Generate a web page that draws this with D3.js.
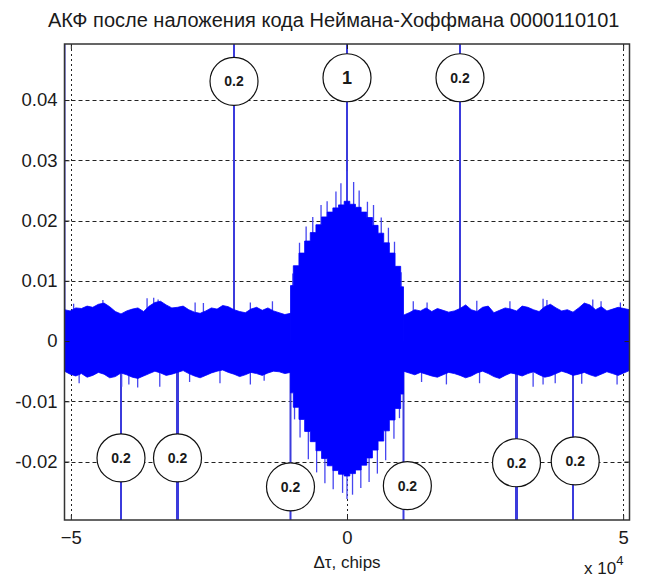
<!DOCTYPE html>
<html lang="ru">
<head>
  <meta charset="UTF-8">
  <title>АКФ после наложения кода Неймана-Хоффмана</title>
  <script src="https://d3js.org/d3.v7.min.js"></script>
  <style>
    body { margin: 0; background: #fff; }
    svg text { font-family: Arial, "Liberation Sans", sans-serif; fill: #1a1a1a; }
  </style>
</head>
<body>
<svg id="chart" width="653" height="578"></svg>
<script>
  // ---- data (x in units of 10^4 chips, one NH bit = 1023*10 chips) ----
  const bitWidth = 1.023;
  const xLimitBits = 5;

  // envelope of the ACF, sampled every 0.1 bit
  const noiseLeftTop = [
    .0052, .0050, .0055, .0054, .0058, .0056, .0061, .0063, .0057, .0049,
    .0045, .0050, .0053, .0055, .0049, .0058, .0064, .0066, .0060, .0055,
    .0056, .0058, .0052, .0048, .0046, .0050, .0055, .0053, .0059, .0057,
    .0052, .0049, .0047, .0053, .0056, .0051, .0055, .0050, .0047, .0044,
    .0046
  ];
  const noiseLeftBottom = [
    -.0050, -.0055, -.0058, -.0054, -.0060, -.0057, -.0052, -.0055, -.0061, -.0059,
    -.0053, -.0056, -.0060, -.0062, -.0058, -.0054, -.0050, -.0053, -.0057, -.0055,
    -.0052, -.0049, -.0054, -.0058, -.0061, -.0057, -.0053, -.0050, -.0048, -.0052,
    -.0055, -.0059, -.0056, -.0052, -.0054, -.0057, -.0053, -.0050, -.0051, -.0054,
    -.0052
  ];
  const bumpTop = [
    .0092, .0125, .0146, .0166, .0180, .0193, .0206, .0214, .0221, .0226,
    .0232,
    .0227, .0222, .0214, .0205, .0192, .0179, .0163, .0146, .0124, .0090
  ];
  const bumpBottom = [
    -.0086, -.0110, -.0130, -.0150, -.0167, -.0182, -.0195, -.0207, -.0215, -.0221,
    -.0224,
    -.0220, -.0214, -.0206, -.0194, -.0181, -.0166, -.0149, -.0131, -.0112, -.0088
  ];
  const noiseRightTop = [
    .0043, .0047, .0052, .0050, .0055, .0049, .0054, .0051, .0048, .0050,
    .0054, .0060, .0052, .0049, .0056, .0058, .0047, .0051, .0055, .0053,
    .0050, .0058, .0056, .0052, .0049, .0057, .0061, .0055, .0050, .0052,
    .0048, .0055, .0063, .0060, .0052, .0057, .0050, .0053, .0056, .0054,
    .0052
  ];
  const noiseRightBottom = [
    -.0050, -.0053, -.0056, -.0052, -.0055, -.0058, -.0060, -.0056, -.0052, -.0054,
    -.0057, -.0061, -.0058, -.0053, -.0050, -.0054, -.0059, -.0062, -.0057, -.0053,
    -.0055, -.0058, -.0054, -.0051, -.0056, -.0060, -.0058, -.0054, -.0050, -.0053,
    -.0057, -.0055, -.0052, -.0056, -.0059, -.0055, -.0051, -.0054, -.0057, -.0053,
    -.0049
  ];

  // single samples sticking out of the envelope: [x, value]
  const spikes = [
    [-4.95, .0062], [-4.42, .0068], [-3.62, .0071], [-3.50, .0072], [-3.42, .0069],
    [-2.75, .0064], [-2.60, .0063], [-1.75, .0064], [-1.35, .0066],
    [1.20, .0066], [1.45, .0064], [2.35, .0067], [2.95, .0066], [3.55, .0070],
    [3.62, .0068], [4.45, .0069], [4.60, .0066], [4.95, .0064],
    [-4.85, -.0070], [-4.08, -.0076], [-3.95, -.0072], [-3.79, -.0077], [-3.39, -.0076],
    [-2.85, -.0068], [-2.30, -.0070], [-1.75, -.0072], [-1.50, -.0066],
    [1.35, -.0068], [1.80, -.0072], [2.40, -.0070], [3.37, -.0076], [3.55, -.0072],
    [3.77, -.0070], [4.25, -.0071], [4.89, -.0072],
    [0, .0282], [-0.11, .0262], [0.12, .0264], [-0.20, .0248], [0.22, .0250],
    [-0.36, .0232], [0.37, .0231], [-0.47, .0226], [0.48, .0226],
    [-0.62, .0206], [0.62, .0205], [-0.74, .0190], [0.75, .0188],
    [-0.86, .0163], [0.86, .0165], [-0.98, .0112], [0.98, .0114],
    [0, -.0262], [-0.08, -.0252], [0.10, -.0255], [-0.25, -.0246], [0.25, -.0244],
    [-0.40, -.0236], [0.40, -.0234], [-0.55, -.0218], [0.55, -.0220], [-0.70, -.0196],
    [0.70, -.0198], [-0.85, -.0160], [0.85, -.0162], [-0.95, -.0130], [0.95, -.0128]
  ];

  // NH code peaks (in bits): lines going up and down from zero
  const upBits = [-5, -2, 0, 2];
  const downBits = [-4, -3, -1, 1, 3, 4];
  const labelBits = [-2, 0, 2, -4, -3, -1, 1, 3, 4];
  const labelTexts = ["0.2", "1", "0.2", "0.2", "0.2", "0.2", "0.2", "0.2", "0.2"];

  const xTicks = [-5, 0, 5];
  const yTicks = [-0.02, -0.01, 0, 0.01, 0.02, 0.03, 0.04];

  // ---- layout ----
  const box = { left: 64.5, right: 629.5, top: 44, bottom: 520 };
  const svg = d3.select("#chart");

  const x = d3.scaleLinear()
    .domain([-xLimitBits * bitWidth, xLimitBits * bitWidth])
    .range([box.left, box.right]);
  const y = d3.scaleLinear()
    .domain([-0.0297, 0.0493])
    .range([box.bottom, box.top]);

  svg.append("defs").append("clipPath").attr("id", "plot")
    .append("rect")
    .attr("x", box.left).attr("y", box.top)
    .attr("width", box.right - box.left).attr("height", box.bottom - box.top);

  // grid
  const grid = svg.append("g").attr("stroke", "#222").attr("stroke-width", 1);
  grid.selectAll(".hg").data(yTicks).enter().append("line")
    .attr("x1", box.left).attr("x2", box.right)
    .attr("y1", d => Math.round(y(d)) + 0.5).attr("y2", d => Math.round(y(d)) + 0.5)
    .attr("stroke-dasharray", "4,3");
  grid.selectAll(".vg").data(xTicks).enter().append("line")
    .attr("y1", box.top).attr("y2", box.bottom)
    .attr("x1", d => Math.round(x(d)) + 0.5).attr("x2", d => Math.round(x(d)) + 0.5)
    .attr("stroke-dasharray", "2,3");

  const plot = svg.append("g").attr("clip-path", "url(#plot)");

  // NH peak lines
  plot.selectAll(".up").data(upBits).enter().append("line")
    .attr("x1", d => x(d * bitWidth)).attr("x2", d => x(d * bitWidth))
    .attr("y1", y(0)).attr("y2", box.top)
    .attr("stroke", "#3b3bdc").attr("stroke-width", 2);
  plot.selectAll(".down").data(downBits).enter().append("line")
    .attr("x1", d => x(d * bitWidth)).attr("x2", d => x(d * bitWidth))
    .attr("y1", y(0)).attr("y2", box.bottom)
    .attr("stroke", "#3b3bdc").attr("stroke-width", d => Math.abs(d) === 3 ? 3 : 2);

  // spikes
  plot.selectAll(".spike").data(spikes).enter().append("line")
    .attr("x1", d => x(d[0])).attr("x2", d => x(d[0]))
    .attr("y1", y(0)).attr("y2", d => y(d[1]))
    .attr("stroke", "#4646f0").attr("stroke-width", 1.3);

  // envelope areas
  function segment(top, bottom, fromBit, toBit) {
    const pos = d3.scaleLinear().domain([0, top.length - 1])
      .range([fromBit * bitWidth, toBit * bitWidth]);
    return top.map((t, i) => ({ x: pos(i), top: t, bottom: bottom[i] }));
  }
  const segments = [
    { pts: segment(noiseLeftTop, noiseLeftBottom, -5, -1), curve: d3.curveLinear },
    { pts: segment(bumpTop, bumpBottom, -1, 1), curve: d3.curveStep },
    { pts: segment(noiseRightTop, noiseRightBottom, 1, 5), curve: d3.curveLinear }
  ];
  plot.selectAll(".env").data(segments).enter().append("path")
    .attr("d", s => d3.area()
      .x(d => x(d.x))
      .y0(d => y(d.bottom))
      .y1(d => y(d.top))
      .curve(s.curve)(s.pts))
    .attr("fill", "#0000ff")
    .attr("stroke", "#0000ff")
    .attr("stroke-width", 0.8);

  // circle labels
  const labelY = { "-2": 0.0431, "0": 0.0437, "2": 0.0437,
                   "-4": -0.0194, "-3": -0.0194, "-1": -0.0242,
                   "1": -0.0240, "3": -0.0202, "4": -0.0199 };
  const labelDx = { "1": 0.07, "4": 0.04 };
  const labels = svg.append("g").selectAll("g").data(labelBits).enter().append("g")
    .attr("transform", d => `translate(${x(d * bitWidth + (labelDx[d] || 0))},${y(labelY[d])})`);
  labels.append("circle")
    .attr("r", 24)
    .attr("fill", "#fff")
    .attr("stroke", "#111")
    .attr("stroke-width", 1.2);
  labels.append("text")
    .attr("text-anchor", "middle")
    .attr("dy", "0.36em")
    .attr("font-weight", "bold")
    .attr("font-size", (d, i) => labelTexts[i] === "1" ? 18 : 14)
    .text((d, i) => labelTexts[i]);

  // axes (inward ticks on all four sides)
  const fmt = d => d === 0 ? "0" : d.toFixed(2);
  const axLeft = svg.append("g").attr("transform", `translate(${box.left},0)`)
    .call(d3.axisLeft(y).tickValues(yTicks).tickFormat(fmt).tickSizeInner(-5).tickSizeOuter(0).tickPadding(8));
  const axRight = svg.append("g").attr("transform", `translate(${box.right},0)`)
    .call(d3.axisRight(y).tickValues(yTicks).tickFormat("").tickSizeInner(-5).tickSizeOuter(0));
  const axBottom = svg.append("g").attr("transform", `translate(0,${box.bottom})`)
    .call(d3.axisBottom(x).tickValues(xTicks).tickFormat(d3.format("d")).tickSizeInner(-5).tickSizeOuter(0).tickPadding(8));
  const axTop = svg.append("g").attr("transform", `translate(0,${box.top})`)
    .call(d3.axisTop(x).tickValues(xTicks).tickFormat("").tickSizeInner(-5).tickSizeOuter(0));
  [axLeft, axRight, axBottom, axTop].forEach(a => {
    a.select(".domain").remove();
    a.selectAll("line").attr("stroke", "#222");
    a.selectAll("text").attr("font-size", 18.5).attr("fill", "#1a1a1a")
      .style("font-family", "Arial, 'Liberation Sans', sans-serif");
  });
  axLeft.selectAll("text").attr("x", -7);
  axBottom.selectAll("text").attr("dy", "0.85em");

  // box
  svg.append("rect")
    .attr("x", box.left).attr("y", box.top)
    .attr("width", box.right - box.left).attr("height", box.bottom - box.top)
    .attr("fill", "none").attr("stroke", "#333").attr("stroke-width", 1.5);

  // title and labels
  svg.append("text")
    .attr("x", 48).attr("y", 27)
    .attr("text-anchor", "start")
    .attr("font-size", 20)
    .text("АКФ после наложения кода Неймана-Хоффмана 0000110101");

  svg.append("text")
    .attr("x", 347).attr("y", 568)
    .attr("text-anchor", "middle")
    .attr("font-size", 17)
    .text("Δτ, chips");

  const expo = svg.append("text")
    .attr("x", 584).attr("y", 574)
    .attr("font-size", 17);
  expo.append("tspan").text("x 10");
  expo.append("tspan").attr("dy", -9).attr("font-size", 13).text("4");
</script>
</body>
</html>
